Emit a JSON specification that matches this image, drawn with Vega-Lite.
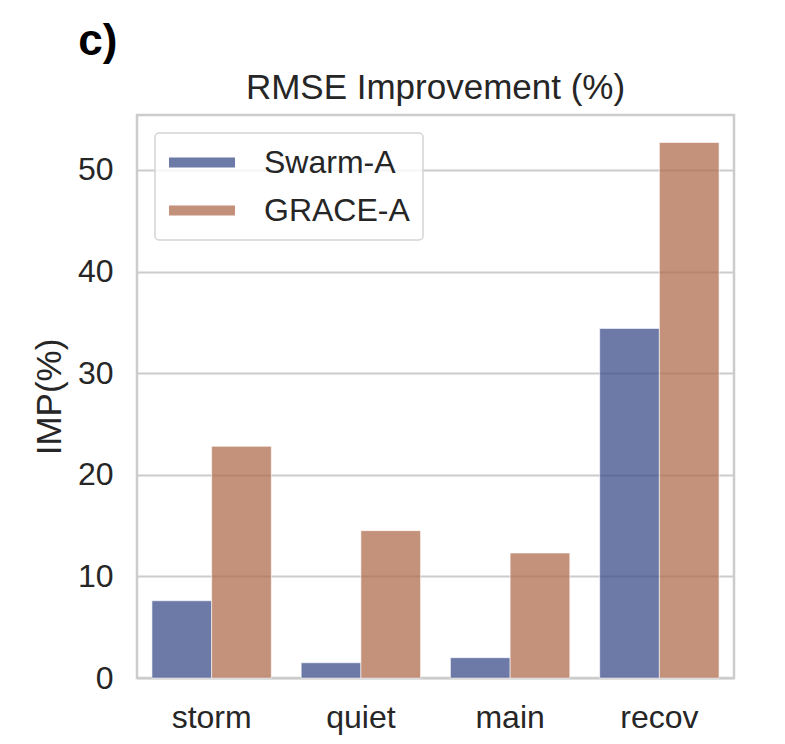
{
  "$schema": "https://vega.github.io/schema/vega-lite/v6.json",
  "background": "white",
  "padding": {"left": 31, "top": 19, "right": 0, "bottom": 0},
  "title": {
    "text": "c)",
    "anchor": "start",
    "frame": "bounds",
    "font": "Liberation Sans",
    "fontSize": 44,
    "fontWeight": "bold",
    "color": "#000000",
    "dx": 47,
    "offset": 6
  },
  "vconcat": [
    {
      "width": 597,
      "height": 563,
      "title": {
        "text": "RMSE Improvement (%)",
        "font": "Liberation Sans",
        "fontSize": 35,
        "fontWeight": "normal",
        "color": "#262626",
        "baseline": "bottom",
        "offset": -26
      },
      "data": {
        "values": [
          {"phase": "storm", "sat": "Swarm-A", "imp": 7.6},
          {"phase": "storm", "sat": "GRACE-A", "imp": 22.8},
          {"phase": "quiet", "sat": "Swarm-A", "imp": 1.5},
          {"phase": "quiet", "sat": "GRACE-A", "imp": 14.5},
          {"phase": "main", "sat": "Swarm-A", "imp": 2.0},
          {"phase": "main", "sat": "GRACE-A", "imp": 12.3},
          {"phase": "recov", "sat": "Swarm-A", "imp": 34.4},
          {"phase": "recov", "sat": "GRACE-A", "imp": 52.7}
        ]
      },
      "mark": {
        "type": "bar",
        "fillOpacity": 0.75,
        "stroke": "#ffffff",
        "strokeWidth": 1,
        "strokeOpacity": 0.6
      },
      "encoding": {
        "x": {
          "field": "phase",
          "type": "nominal",
          "sort": ["storm", "quiet", "main", "recov"],
          "scale": {"paddingInner": 0.2, "paddingOuter": 0.1},
          "axis": {
            "title": null,
            "labelAngle": 0,
            "ticks": false,
            "domain": false,
            "grid": false,
            "labelPadding": 24,
            "labelFontSize": 32
          }
        },
        "xOffset": {
          "field": "sat",
          "type": "nominal",
          "sort": ["Swarm-A", "GRACE-A"],
          "scale": {"paddingInner": 0, "paddingOuter": 0}
        },
        "y": {
          "field": "imp",
          "type": "quantitative",
          "scale": {"domain": [0, 55.4], "nice": false, "zero": true},
          "axis": {
            "title": "IMP(%)",
            "values": [0, 10, 20, 30, 40, 50],
            "ticks": false,
            "domain": false,
            "labelPadding": 24,
            "labelFontSize": 32,
            "titleFontSize": 35,
            "titlePadding": 10
          }
        },
        "color": {
          "field": "sat",
          "type": "nominal",
          "sort": ["Swarm-A", "GRACE-A"],
          "scale": {"range": ["#3c4e8a", "#b06c4e"]},
          "legend": {
            "title": null,
            "orient": "none",
            "legendX": 18,
            "legendY": 18,
            "symbolType": "M-1,-0.344H3.1875V0.344H-1Z",
            "symbolSize": 1024,
            "symbolOpacity": 0.75,
            "symbolStrokeColor": "#ffffff",
            "symbolStrokeWidth": 1,
            "labelFontSize": 32,
            "labelOffset": 63,
            "rowPadding": 15,
            "padding": 13,
            "fillColor": "rgba(255,255,255,0.8)",
            "strokeColor": "#d4d4d4",
            "cornerRadius": 4
          }
        }
      }
    }
  ],
  "config": {
    "font": "Liberation Sans",
    "view": {"stroke": "#cccccc", "strokeWidth": 2.5},
    "axis": {
      "gridColor": "#cccccc",
      "gridWidth": 2,
      "labelColor": "#262626",
      "titleColor": "#262626",
      "labelFont": "Liberation Sans",
      "titleFont": "Liberation Sans",
      "titleFontWeight": "normal"
    },
    "legend": {
      "labelColor": "#262626",
      "labelFont": "Liberation Sans",
      "strokeWidth": 1.5
    }
  }
}
